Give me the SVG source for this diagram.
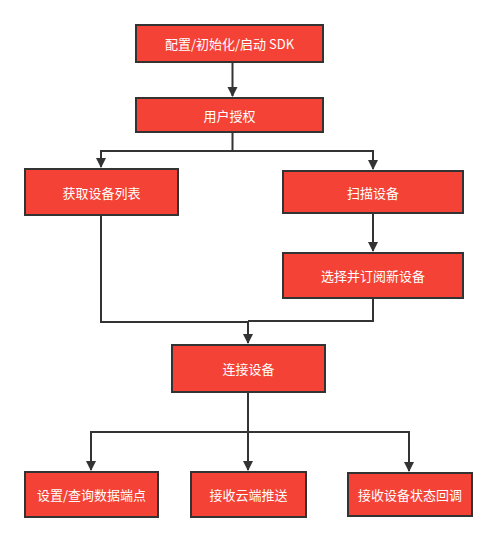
<svg xmlns="http://www.w3.org/2000/svg" width="497" height="542" viewBox="0 0 497 542">
<style>
.box{fill:#F44336;stroke:#333;stroke-width:2}
.lbl{fill:#fff;font-family:"Noto Sans CJK SC","Liberation Sans",sans-serif;font-size:13px;text-anchor:middle;dominant-baseline:central}
.ln{fill:none;stroke:#333;stroke-width:2}
</style>
<defs>
<marker id="ah" markerWidth="10" markerHeight="12" refX="9" refY="5" orient="auto" markerUnits="userSpaceOnUse">
<path d="M0,0 L10,5 L0,10 Z" fill="#333"/>
</marker>
</defs>
<rect width="497" height="542" fill="#fff"/>
<g id="connectors">
<path class="ln" d="M232.5,62 V96" marker-end="url(#ah)"/>
<path class="ln" d="M232.5,132 V151 H101 V167" marker-end="url(#ah)"/>
<path class="ln" d="M232.5,151 H373 V169" marker-end="url(#ah)"/>
<path class="ln" d="M373,213 V251" marker-end="url(#ah)"/>
<path class="ln" d="M101,215 V322 H248 V343" marker-end="url(#ah)"/>
<path class="ln" d="M373,298 V321 H248"/>
<path class="ln" d="M248,392 V432 H91 V470" marker-end="url(#ah)"/>
<path class="ln" d="M248,432 V470" marker-end="url(#ah)"/>
<path class="ln" d="M248,432 H409 V471" marker-end="url(#ah)"/>
</g>
<g id="n1"><rect class="box" x="136" y="25" width="187" height="37"/><text class="lbl" x="229.5" y="43.5">配置/初始化/启动 SDK</text></g>
<g id="n2"><rect class="box" x="136" y="98" width="187" height="34"/><text class="lbl" x="229.5" y="115">用户授权</text></g>
<g id="n3"><rect class="box" x="25" y="169" width="153" height="46"/><text class="lbl" x="101.5" y="192">获取设备列表</text></g>
<g id="n4"><rect class="box" x="283" y="171" width="180" height="42"/><text class="lbl" x="373" y="192">扫描设备</text></g>
<g id="n5"><rect class="box" x="283" y="253" width="180" height="45"/><text class="lbl" x="373" y="275.5">选择并订阅新设备</text></g>
<g id="n6"><rect class="box" x="172" y="345" width="153" height="47"/><text class="lbl" x="248.5" y="368.5">连接设备</text></g>
<g id="n7"><rect class="box" x="25" y="472" width="133" height="45"/><text class="lbl" x="91.5" y="494.5">设置/查询数据端点</text></g>
<g id="n8"><rect class="box" x="191" y="472" width="115" height="45"/><text class="lbl" x="248.5" y="494.5">接收云端推送</text></g>
<g id="n9"><rect class="box" x="348" y="473" width="124" height="43"/><text class="lbl" x="410" y="494.5">接收设备状态回调</text></g>
</svg>
